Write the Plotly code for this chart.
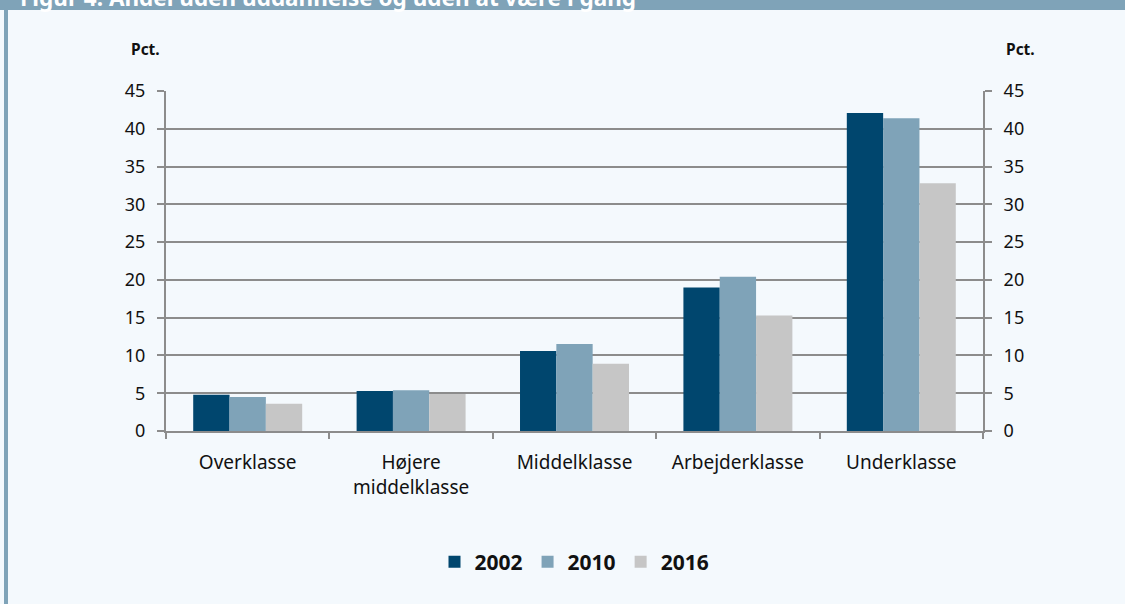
import plotly.graph_objects as go

categories = ["Overklasse", "Højere<br>middelklasse", "Middelklasse", "Arbejderklasse", "Underklasse"]
series_names = ["2002", "2010", "2016"]
v2002 = [4.8, 5.3, 10.6, 19.0, 42.1]
v2010 = [4.5, 5.4, 11.5, 20.4, 41.4]
v2016 = [3.6, 4.9, 8.9, 15.3, 32.8]
y_ticks = [0, 5, 10, 15, 20, 25, 30, 35, 40, 45]
title_text = "Figur 4. Andel uden uddannelse og uden at være i gang"

colors = ["#00466e", "#7fa3b8", "#c6c6c6"]
W, H = 1125, 604
L, R, T, B = 166, 142, 91, 173
PW, PH = W - L - R, H - T - B
FONT = "Noto Sans"

fig = go.Figure()
for name, vals, c in zip(series_names, [v2002, v2010, v2016], colors):
    fig.add_trace(go.Bar(x=categories, y=vals, name=name, marker=dict(color=c, line=dict(width=0)),
                         hoverinfo="x+y"))
# invisible trace to activate the right axis
fig.add_trace(go.Scatter(x=categories, y=v2002, yaxis="y2", mode="markers",
                         marker=dict(opacity=0), showlegend=False, hoverinfo="skip"))

grid = "#8c8c8c"
fig.update_layout(
    width=W, height=H,
    paper_bgcolor="#f4f9fd", plot_bgcolor="#f4f9fd",
    margin=dict(l=L, r=R, t=T, b=B, autoexpand=False),
    barmode="group", bargap=0.333, bargroupgap=0,
    font=dict(family=FONT, size=18, color="#111111"),
    xaxis=dict(showline=True, linecolor=grid, linewidth=2, ticks="outside", tickson="boundaries",
               ticklen=6, tickwidth=1.5, tickcolor=grid, ticklabelstandoff=13,
               tickfont=dict(size=19), showgrid=False, mirror=False),
    yaxis=dict(range=[0, 45], tickvals=y_ticks, showline=True, linecolor=grid, linewidth=2,
               ticks="outside", ticklen=7, tickwidth=1.5, tickcolor=grid, showgrid=True,
               gridcolor=grid, gridwidth=1.5, zeroline=False, ticklabelstandoff=8,
               tickfont=dict(size=18)),
    yaxis2=dict(range=[0, 45], tickvals=y_ticks, overlaying="y", side="right", showline=True,
                linecolor=grid, linewidth=2, ticks="outside", ticklen=7, tickwidth=1.5,
                tickcolor=grid, showgrid=False, zeroline=False, ticklabelstandoff=8,
                tickfont=dict(size=18)),
    legend=dict(orientation="h", x=0.5, xanchor="center", y=-(562 - (T + PH)) / PH, yanchor="middle",
                font=dict(size=21, family=FONT, weight="bold"), itemwidth=30,
                bgcolor="rgba(0,0,0,0)", traceorder="normal"),
    shapes=[
        dict(type="rect", xref="paper", yref="paper", x0=-L / PW, x1=1 + R / PW,
             y0=1 + (T - 10) / PH, y1=1 + (T + 5) / PH,
             fillcolor="#7fa3b8", line=dict(width=0), layer="below"),
        dict(type="rect", xref="paper", yref="paper", x0=-(L - 4) / PW, x1=-(L - 8) / PW,
             y0=-B / PH - 0.05, y1=1 + T / PH,
             fillcolor="#7fa3b8", line=dict(width=0), layer="below"),
    ],
    annotations=[
        dict(text="<b>Pct.</b>", xref="paper", yref="paper", x=-(L - 145) / PW,
             y=1 + (T - 49) / PH, xanchor="center", yanchor="middle", showarrow=False,
             font=dict(size=15.5)),
        dict(text="<b>Pct.</b>", xref="paper", yref="paper", x=1 + (1020 - (W - R)) / PW,
             y=1 + (T - 49) / PH, xanchor="center", yanchor="middle", showarrow=False,
             font=dict(size=15.5)),
        dict(text="<b>" + title_text + "</b>", xref="paper", yref="paper", x=-(L - 18) / PW,
             y=1 + (T + 3) / PH, xanchor="left", yanchor="middle", showarrow=False,
             font=dict(size=22.5, color="white")),
    ],
)

fig.write_html("out.html", config={"displayModeBar": False},
               post_script="document.body.style.margin='0';document.body.style.overflow='hidden';")
